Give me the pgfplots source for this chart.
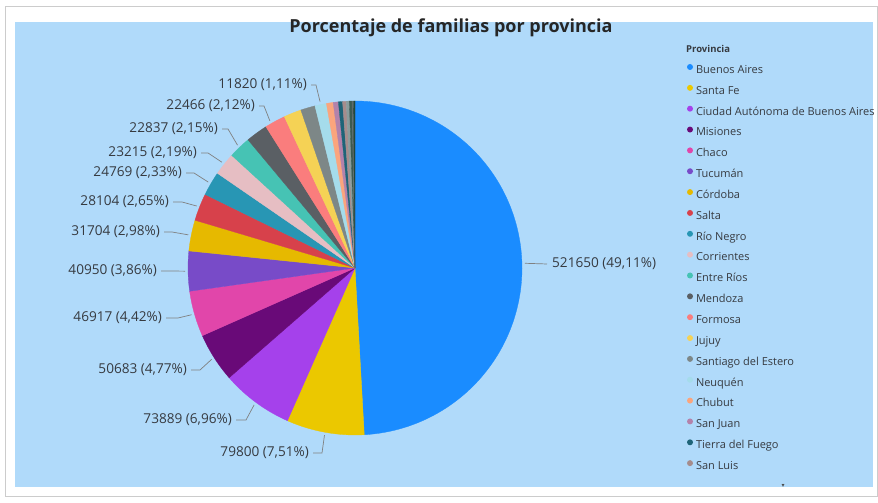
\documentclass[border=0pt]{standalone}
\usepackage{pgfplots}
\pgfplotsset{compat=1.18}
\usepackage{fontspec}
\setmainfont{Open Sans}
\newfontfamily\symfont{DejaVu Sans}

\definecolor{panel}{RGB}{176,218,250}
\definecolor{cBA}{HTML}{1A8CFF}
\definecolor{cSF}{HTML}{EBC800}
\definecolor{cCABA}{HTML}{A541EB}
\definecolor{cMis}{HTML}{690A78}
\definecolor{cCha}{HTML}{E146AA}
\definecolor{cTuc}{HTML}{784BC8}
\definecolor{cCba}{HTML}{E6B900}
\definecolor{cSal}{HTML}{D7414B}
\definecolor{cRN}{HTML}{2896B4}
\definecolor{cCor}{HTML}{E6BEC3}
\definecolor{cER}{HTML}{46C3B4}
\definecolor{cMza}{HTML}{5A5F64}
\definecolor{cFor}{HTML}{FA7D7D}
\definecolor{cJuj}{HTML}{F5D255}
\definecolor{cSgo}{HTML}{7D8787}
\definecolor{cNeu}{HTML}{A5DCEB}
\definecolor{cChu}{HTML}{FAA57D}
\definecolor{cSJ}{HTML}{B482AA}
\definecolor{cTdF}{HTML}{1E6478}
\definecolor{cSL}{HTML}{A58C8C}
\definecolor{cXa}{HTML}{8A9C9C}
\definecolor{cXb}{HTML}{3C5A50}
\definecolor{cXc}{HTML}{5F6A6A}
\definecolor{cXd}{HTML}{24463A}
\definecolor{txt}{HTML}{363A40}

\tikzset{
  leader/.style={draw=black!50, line width=0.7pt},
  lbltext/.style={font=\fontsize{13.6}{15}\selectfont, text=txt, inner sep=0pt},
}

% value / colour / legend name / in legend
\def\slicedata{521650/cBA/Buenos Aires/1, 79800/cSF/Santa Fe/1,
 73889/cCABA/Ciudad Autónoma de Buenos Aires/1, 50683/cMis/Misiones/1,
 46917/cCha/Chaco/1, 40950/cTuc/Tucumán/1, 31704/cCba/Córdoba/1,
 28104/cSal/Salta/1, 24769/cRN/Río Negro/1, 23215/cCor/Corrientes/1,
 22837/cER/Entre Ríos/1, 22466/cMza/Mendoza/1, 21244/cFor/Formosa/1,
 18058/cJuj/Jujuy/1, 14871/cSgo/Santiago del Estero/1, 11820/cNeu/Neuquén/1,
 6904/cChu/Chubut/1, 5311/cSJ/San Juan/1, 4249/cTdF/Tierra del Fuego/1,
 3718/cSL/San Luis/1, 3187/cXa/x/0, 2656/cXb/x/0, 1593/cXc/x/0, 1487/cXd/x/0}

\def\cum{0}
\newcommand\slice[4]{%
  \xdef\aEnd{\fpeval{round(90-360*\cum/\total,4)}}%
  \xdef\cum{\fpeval{\cum+#1}}%
  \xdef\aStart{\fpeval{round(90-360*\cum/\total,4)}}%
  \expandafter\xdef\csname mid#2\endcsname{\fpeval{(\aStart+\aEnd)/2}}%
  \xdef\nsamp{\fpeval{max(4,ceil((\aEnd-\aStart)/1.2)+2)}}%
  \ifnum#4=1 \def\extra{}\else\def\extra{,forget plot}\fi
  \edef\temp{\noexpand\addplot[fill=#2, draw=#2, line width=0.3pt, domain=\aStart:\aEnd, samples=\nsamp\extra]
     ({355+167*cos(x)},{235+167*sin(x)}) -- (axis cs:355,235) -- cycle;%
     \ifnum#4=1 \noexpand\addlegendentry{#3}\fi}%
  \temp}

% colour, text right end x, y (image), elbow x, angle offset, text
\newcommand\lbl[6]{%
  \edef\temp{\noexpand\draw[leader] (axis cs:\fpeval{#2+4},\fpeval{503-#3}) -- (axis cs:#4,\fpeval{503-#3})
    -- (axis cs:\fpeval{round(355+170*cosd(\csname mid#1\endcsname+(#5)),2)},\fpeval{round(235+170*sind(\csname mid#1\endcsname+(#5)),2)});
    \noexpand\node[lbltext, anchor=east] at (axis cs:#2,\fpeval{503-#3}) {\unexpanded{#6}};}%
  \temp}

\begin{document}
\def\total{0}%
\foreach \v/\c/\n/\l in \slicedata {\xdef\total{\fpeval{\total+\v}}}%
\begin{tikzpicture}
\fill[white] (0,0) rectangle (878pt,503pt);
\draw[black!20, line width=1pt] (5.5pt,6pt) rectangle (877.5pt,496pt);
\fill[panel] (15pt,16pt) rectangle (873pt,481pt);
\begin{axis}[
  x=1pt, y=1pt, xmin=0, xmax=878, ymin=0, ymax=503,
  scale only axis, hide axis, clip=false,
  legend cell align=left,
  legend image code/.code={\fill[#1, draw=none] (3pt,3.6pt) circle (3pt); \path[draw=none, fill=none] (0,0) rectangle (9pt,0.1pt);},
  legend style={at={(axis cs:687,439)}, anchor=north west, draw=none, fill=none,
    inner sep=0pt, outer sep=0pt, font=\fontsize{11}{12}\selectfont, text=txt,
    row sep=9.0pt,
    nodes={inner sep=0pt, text height=8pt, text depth=2.5pt}},
]
\foreach \v/\c/\n/\l in \slicedata {\slice{\v}{\c}{\n}{\l}}

\edef\temp{\noexpand\draw[leader] (axis cs:\fpeval{round(355+170*cosd(\midcBA),2)},\fpeval{round(235+170*sind(\midcBA),2)}) -- (axis cs:547,239);}\temp
\node[lbltext, anchor=west] at (axis cs:552,239) {521650 (49,11\%)};
\lbl{cSF}{309}{453}{322}{0}{79800 (7,51\%)}
\lbl{cCABA}{232}{420}{246}{0}{73889 (6,96\%)}
\lbl{cMis}{187}{370}{200}{0}{50683 (4,77\%)}
\lbl{cCha}{162}{318}{178}{0}{46917 (4,42\%)}
\lbl{cTuc}{157}{271}{170}{0}{40950 (3,86\%)}
\lbl{cCba}{160}{232}{172}{0}{31704 (2,98\%)}
\lbl{cSal}{169}{202}{182}{0}{28104 (2,65\%)}
\lbl{cRN}{182}{173}{194}{0}{24769 (2,33\%)}
\lbl{cCor}{197}{153}{208}{0}{23215 (2,19\%)}
\lbl{cER}{218}{129}{228}{0}{22837 (2,15\%)}
\lbl{cMza}{255}{106}{264}{-6}{22466 (2,12\%)}
\lbl{cNeu}{307}{85}{316}{0}{11820 (1,11\%)}

\node[font=\bfseries\fontsize{18}{20}\selectfont, text=black!85, anchor=base] at (axis cs:451,470.5) {Porcentaje de familias por provincia};
\node[font=\bfseries\fontsize{9.5}{11}\selectfont, text=txt, anchor=west, inner sep=0pt] at (axis cs:686,454) {Provincia};
\node[font=\symfont\fontsize{6}{6}\selectfont, text=black!70] at (axis cs:783,17) {▾};
\end{axis}
\end{tikzpicture}
\end{document}
